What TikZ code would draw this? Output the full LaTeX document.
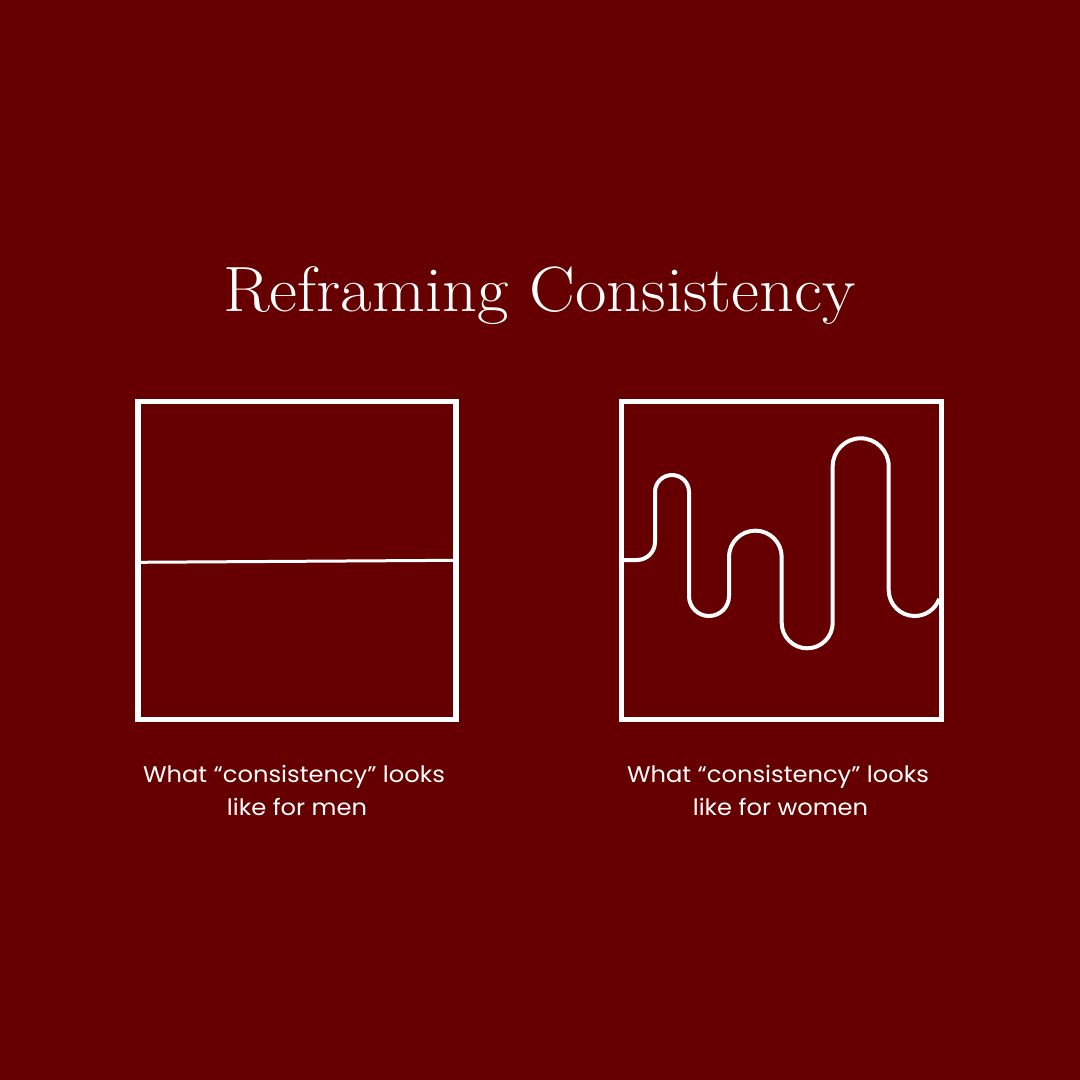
\documentclass[tikz,border=0pt]{standalone}
\usepackage{fontspec}
\newfontfamily\capfont{Poppins}
\definecolor{bgred}{HTML}{660000}
\begin{document}
\begin{tikzpicture}[x=1pt,y=-1pt,
  frame/.style={draw=white,line width=5.5pt},
  wave/.style={draw=white,line width=4pt,line join=round},
  caption/.style={text=white,font=\capfont\fontsize{22.6}{26}\selectfont,anchor=base,inner sep=0pt,xscale=1.07},
  title/.style={text=white,font=\fontsize{64}{70}\selectfont,anchor=base,inner sep=0pt,xscale=1.07}]
\fill[bgred] (0,0) rectangle (1080,1080);
\useasboundingbox (0,0) rectangle (1080,1080);
\node[title] (title) at (539.5,311) {Reframing Consistency};
% left box
\draw[frame] (138,401.5) rectangle (456,719.5);
\draw[white,line width=3pt] (138,562.3) -- (456,560.3);
% right box
\draw[frame] (621.5,401.5) rectangle (941.5,719.5);
\draw[wave] (624,560) -- (637,560)
  arc[start angle=90,end angle=0,radius=18] -- (655,492)
  arc[start angle=180,end angle=360,radius=17] -- (689,596)
  arc[start angle=180,end angle=0,radius=20] -- (729,557)
  arc[start angle=180,end angle=360,radius=26.35] -- (781.7,622.8)
  arc[start angle=180,end angle=0,radius=25.5] -- (832.7,466.3)
  arc[start angle=180,end angle=360,radius=28] -- (888.7,590)
  arc[start angle=180,end angle=20,radius=26];
\node[caption] (l1) at (294,782.3) {What “consistency” looks};
\node[caption] (l2) at (297,815) {like for men};
\node[caption] (r1) at (778,782.3) {What “consistency” looks};
\node[caption] (r2) at (780.5,815) {like for women};
\end{tikzpicture}
\end{document}
